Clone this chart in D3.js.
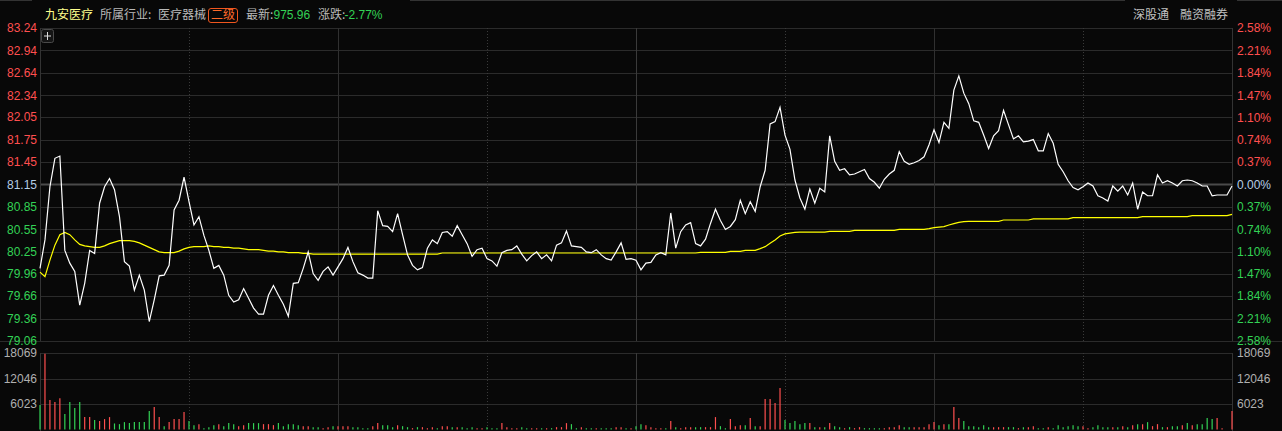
<!DOCTYPE html>
<html><head><meta charset="utf-8">
<script src="https://cdn.jsdelivr.net/npm/d3@7"></script>
<style>html,body{margin:0;padding:0;background:#080808;overflow:hidden}</style>
</head><body><svg id="c" width="1282" height="431"></svg>
<script>
const prevClose = 81.15;
const stockName = "九安医疗";
const headerItems = [
  {t:"所属行业:", c:"gray"}, {t:"医疗器械", c:"gray"}
];
const latestLabel = "最新:", latestValue = "975.96";
const changeLabel = "涨跌:", changeValue = "-2.77%";
const levelTag = "二级";
const rightLinks = ["深股通", "融资融券"];

const priceTicks = [83.24,82.94,82.64,82.34,82.05,81.75,81.45,81.15,80.85,80.55,80.25,79.96,79.66,79.36,79.06];
const pctTicks = [2.58,2.21,1.84,1.47,1.10,0.74,0.37,0,-0.37,-0.74,-1.10,-1.47,-1.84,-2.21,-2.58];
const volTicks = [18069,12046,6023];
const volMax = 18069;
const halfHourMarks = [30,60,90,120,150,180,210];
const hourMarks = [60,120,180];

const prices = [
80.03,80.41,81.12,81.50,81.53,80.27,80.10,79.99,79.54,79.83,
80.27,80.23,80.90,81.12,81.23,81.08,80.72,80.12,80.06,79.74,
79.94,79.74,79.32,79.61,79.93,79.94,80.07,80.81,80.94,81.25,
80.92,80.61,80.72,80.47,80.27,80.03,80.07,79.94,79.67,79.58,
79.61,79.76,79.63,79.50,79.42,79.42,79.67,79.80,79.67,79.55,
79.39,79.83,79.84,80.03,80.25,79.96,79.87,79.99,80.05,79.94,
80.05,80.16,80.31,80.12,79.97,79.94,79.90,79.90,80.80,80.60,
80.59,80.52,80.76,80.48,80.21,80.07,80.01,80.04,80.30,80.41,
80.36,80.51,80.52,80.46,80.60,80.48,80.36,80.19,80.28,80.30,
80.16,80.13,80.06,80.24,80.27,80.28,80.33,80.22,80.13,80.20,
80.25,80.16,80.21,80.13,80.34,80.37,80.53,80.33,80.32,80.31,
80.25,80.24,80.28,80.21,80.16,80.14,80.25,80.37,80.15,80.16,
80.14,80.01,80.10,80.11,80.21,80.24,80.21,80.77,80.30,80.52,
80.61,80.64,80.36,80.33,80.42,80.63,80.82,80.67,80.55,80.59,
80.68,80.94,80.76,80.92,80.79,81.12,81.34,81.96,81.99,82.18,
81.81,81.62,81.21,80.97,80.82,81.09,80.90,81.10,81.05,81.80,
81.46,81.34,81.36,81.28,81.29,81.32,81.35,81.23,81.18,81.10,
81.22,81.29,81.34,81.59,81.46,81.42,81.44,81.47,81.52,81.68,
81.88,81.71,81.98,81.90,82.41,82.60,82.37,82.23,82.00,81.98,
81.81,81.63,81.80,81.87,82.14,81.95,81.76,81.80,81.72,81.73,
81.75,81.60,81.60,81.83,81.70,81.42,81.32,81.20,81.11,81.08,
81.12,81.17,81.13,81.00,80.97,80.93,81.13,81.06,81.13,81.01,
81.17,80.82,81.05,81.00,81.00,81.28,81.17,81.20,81.17,81.13,
81.20,81.21,81.20,81.17,81.13,81.13,81.00,81.01,81.01,81.01,
81.13];

const avgPrices = [
79.98,79.92,80.14,80.34,80.48,80.51,80.48,80.41,80.35,80.33,
80.32,80.31,80.31,80.33,80.36,80.38,80.40,80.40,80.40,80.39,
80.37,80.34,80.31,80.28,80.25,80.24,80.24,80.24,80.26,80.29,
80.31,80.32,80.32,80.32,80.33,80.32,80.32,80.31,80.31,80.30,
80.30,80.29,80.28,80.28,80.28,80.27,80.26,80.26,80.25,80.25,
80.24,80.24,80.24,80.23,80.23,80.22,80.22,80.22,80.22,80.22,
80.22,80.22,80.22,80.22,80.22,80.22,80.22,80.22,80.22,80.22,
80.22,80.22,80.22,80.22,80.22,80.22,80.22,80.22,80.22,80.22,
80.22,80.235,80.235,80.235,80.235,80.235,80.235,80.235,80.235,80.235,
80.235,80.235,80.235,80.235,80.235,80.235,80.235,80.235,80.235,80.235,
80.235,80.235,80.235,80.235,80.235,80.235,80.235,80.235,80.235,80.235,
80.235,80.235,80.235,80.235,80.235,80.235,80.235,80.235,80.235,80.235,
80.235,80.235,80.235,80.235,80.235,80.235,80.235,80.235,80.235,80.235,
80.235,80.235,80.235,80.244,80.244,80.244,80.244,80.244,80.244,80.257,
80.257,80.257,80.27,80.27,80.27,80.293,80.32,80.364,80.41,80.462,
80.49,80.50,80.51,80.515,80.515,80.515,80.515,80.515,80.515,80.524,
80.524,80.524,80.524,80.524,80.538,80.538,80.538,80.538,80.538,80.538,
80.538,80.538,80.538,80.55,80.55,80.55,80.55,80.55,80.55,80.56,
80.574,80.58,80.587,80.609,80.627,80.645,80.654,80.658,80.658,80.658,
80.658,80.658,80.658,80.658,80.676,80.676,80.676,80.676,80.676,80.676,
80.69,80.69,80.69,80.69,80.69,80.69,80.69,80.69,80.707,80.707,
80.707,80.707,80.707,80.707,80.707,80.707,80.707,80.707,80.707,80.707,
80.707,80.707,80.72,80.72,80.72,80.72,80.72,80.72,80.72,80.72,
80.72,80.72,80.734,80.734,80.734,80.734,80.734,80.734,80.734,80.734,
80.752];

const volumes = [
5785,17900,6974,6500,7370,3645,6500,5072,6500,2932,
2932,2219,1981,2457,2932,1427,1268,1744,1506,1744,
1744,1744,4359,5310,2932,793,1744,2457,2457,4121,
1981,1030,1268,317,555,1030,1268,793,1506,1268,
793,1030,1506,1506,1506,1268,1268,1030,1506,793,
1268,1268,1030,793,793,555,555,317,555,793,
793,793,793,555,555,317,317,793,1506,1030,
1030,555,1030,793,555,317,555,555,317,555,
317,793,793,555,555,555,317,555,317,317,
555,317,317,1506,555,317,317,555,317,317,
317,317,317,317,555,555,1506,1268,317,555,
317,317,317,317,317,317,555,555,317,317,
793,1268,1030,555,317,317,317,1981,555,317,
555,555,555,555,555,555,2932,793,317,2457,
793,1030,1030,2694,793,793,7212,7212,6261,9827,
2219,1506,1981,1268,1506,1506,555,555,555,1506,
793,555,317,555,317,555,317,317,317,317,
317,555,555,1030,555,555,555,555,555,1268,
1744,1030,1268,1268,5310,2694,1981,793,793,555,
1030,555,555,555,555,555,555,317,555,555,
793,317,317,555,317,1030,555,793,1030,793,
793,317,555,1030,555,555,555,555,793,555,
1030,1268,1268,1744,793,1268,555,555,793,793,
1030,1506,1030,1268,1268,2694,2457,2694,317,0,
4359];

const volDirs =
"GRRRRGGGGR"+"RGRRRGGGGG"+"GGGRRGRRRR"+"GGRGGGRGGG"+"RRGGGRRRGG"+
"GGGRRGGRRG"+"RRRGGGGRRG"+"GGRGGRGRRR"+"GRRGRGGGRR"+"GGGRRRRGGR"+
"RGRGRRRGGR"+"GGRGGGRRGR"+"GGRRRRGRGR"+"RRGGRRRGGR"+"RRGRGRRRRR"+
"GGGGGRGRGR"+"GGRGRRGGGG"+"RRRRGGRRRR"+"RGRGRRGGGG"+"GGRRRGGRGR"+
"RGGRGGGGGG"+"RRGGGGRGRG"+"RGRGRRGRGG"+"RGRGGGGRRR"+"R";

const RED = "#ff4f4f", GREEN = "#33d255", NEUTRAL = "#b5cde6", GRID = "#2b2b2b";

const svg = d3.select("#c");
svg.append("rect").attr("width",1282).attr("height",431).attr("fill","#080808");

const x = d3.scaleLinear().domain([0,240]).range([40,1232]);
const y = d3.scaleLinear().domain([79.06,83.24]).range([341,28]);
const yPct = d3.scaleLinear().domain([-2.58,2.58]).range([341,28]);
const yVol = d3.scaleLinear().domain([0,volMax]).range([429.5,353]);

// top border fragments
[[0,32],[410,1125],[1237,1282]].forEach(s=>svg.append("line").attr("x1",s[0]).attr("x2",s[1]).attr("y1",0.5).attr("y2",0.5).attr("stroke","#333"));

// horizontal grid price
svg.append("g").selectAll("line").data(priceTicks).join("line")
  .attr("x1",40).attr("x2",1232)
  .attr("y1",d=>Math.round(y(d))+0.5).attr("y2",d=>Math.round(y(d))+0.5)
  .attr("stroke",d=>d===prevClose?"#4a4a4a":GRID)
  .attr("stroke-width",d=>d===prevClose?2:1);
// volume grid
svg.append("g").selectAll("line").data(volTicks).join("line")
  .attr("x1",40).attr("x2",1232)
  .attr("y1",d=>Math.round(yVol(d))+0.5).attr("y2",d=>Math.round(yVol(d))+0.5)
  .attr("stroke",GRID);
// separator
svg.append("line").attr("x1",0).attr("x2",1282).attr("y1",341.5).attr("y2",341.5).attr("stroke",GRID);

// vertical grid in both panels
[[28,341],[353,431]].forEach(([a,b])=>{
  svg.append("g").selectAll("line").data(halfHourMarks).join("line")
    .attr("x1",d=>Math.round(x(d))+0.5).attr("x2",d=>Math.round(x(d))+0.5)
    .attr("y1",a).attr("y2",b)
    .attr("stroke",d=>hourMarks.includes(d)?(d===120?"#3a3a3a":"#303030"):"#3a3a3a")
    .attr("stroke-dasharray",d=>hourMarks.includes(d)?null:"1,2");
  [40,1232].forEach(v=>svg.append("line").attr("x1",v+0.5).attr("x2",v+0.5).attr("y1",a).attr("y2",b).attr("stroke","#333"));
});

// axes
function styleAxis(g, colorFn){
  g.select(".domain").remove();
  g.selectAll("text").attr("font-size",12).attr("font-family","'Liberation Sans',Arial,sans-serif")
   .attr("fill",colorFn);
}
const colorP = d=> d>prevClose+1e-9?RED:(d<prevClose-1e-9?GREEN:NEUTRAL);
const colorC = d=> d>0?RED:(d<0?GREEN:NEUTRAL);
svg.append("g").attr("transform","translate(40,0)")
  .call(d3.axisLeft(y).tickValues(priceTicks).tickFormat(d=>d.toFixed(2)).tickSize(0).tickPadding(3))
  .call(g=>styleAxis(g,colorP));
svg.append("g").attr("transform","translate(1232,0)")
  .call(d3.axisRight(yPct).tickValues(pctTicks).tickFormat(d=>Math.abs(d).toFixed(2)+"%").tickSize(0).tickPadding(5))
  .call(g=>styleAxis(g,colorC));
svg.append("g").attr("transform","translate(40,0)")
  .call(d3.axisLeft(yVol).tickValues(volTicks).tickFormat(d=>String(d)).tickSize(0).tickPadding(3))
  .call(g=>styleAxis(g,"#b0b0b0"));
svg.append("g").attr("transform","translate(1232,0)")
  .call(d3.axisRight(yVol).tickValues(volTicks).tickFormat(d=>String(d)).tickSize(0).tickPadding(5))
  .call(g=>styleAxis(g,"#b0b0b0"));

// volume bars
svg.append("g").selectAll("line").data(volumes).join("line")
  .attr("x1",(d,i)=>x(i)).attr("x2",(d,i)=>x(i))
  .attr("y1",yVol(0)).attr("y2",d=>yVol(d))
  .attr("stroke",(d,i)=>volDirs[i]==="R"?RED:GREEN)
  .attr("stroke-width",1.2)
  .attr("display",d=>d>0?null:"none");

// avg line and price line
svg.append("path").datum(avgPrices)
  .attr("d",d3.line().x((d,i)=>x(i)).y(d=>y(d)))
  .attr("fill","none").attr("stroke","#ffff00").attr("stroke-width",1.2);
svg.append("path").datum(prices)
  .attr("d",d3.line().x((d,i)=>x(i)).y(d=>y(d)))
  .attr("fill","none").attr("stroke","#ffffff").attr("stroke-width",1.2);

// plus button
const pb = svg.append("g");
pb.append("rect").attr("x",41.5).attr("y",29.5).attr("width",12).attr("height",13).attr("rx",2)
  .attr("fill","#151515").attr("stroke","#4a4a4a");
pb.append("line").attr("x1",44).attr("x2",51).attr("y1",36).attr("y2",36).attr("stroke","#ddd");
pb.append("line").attr("x1",47.5).attr("x2",47.5).attr("y1",32).attr("y2",40).attr("stroke","#ddd");

// header
const cjk = "'Noto Sans CJK SC','Microsoft YaHei',sans-serif";
const hdr = svg.append("g").attr("font-size",12).attr("font-family",cjk);
function ht(xp, t, col, fam){
  hdr.append("text").attr("x",xp).attr("y",15).attr("dy","0.35em").attr("fill",col)
    .attr("font-family",fam||cjk).text(t);
}
ht(45, stockName, "#ffff8c");
ht(100, headerItems[0].t, "#b9b9b9");
ht(158, headerItems[1].t, "#b9b9b9");
hdr.append("rect").attr("x",208.5).attr("y",8.5).attr("width",29).attr("height",14).attr("rx",2.5)
  .attr("fill","none").attr("stroke","#f0561e");
ht(211, levelTag, "#ff6a2a");
ht(246, latestLabel, "#b9b9b9");
ht(273.5, latestValue, GREEN, "'Liberation Sans',Arial,sans-serif");
ht(318, changeLabel, "#b9b9b9");
ht(344.5, changeValue, GREEN, "'Liberation Sans',Arial,sans-serif");
ht(1133, rightLinks[0], "#c0c0c0");
ht(1180, rightLinks[1], "#c0c0c0");
</script></body></html>
